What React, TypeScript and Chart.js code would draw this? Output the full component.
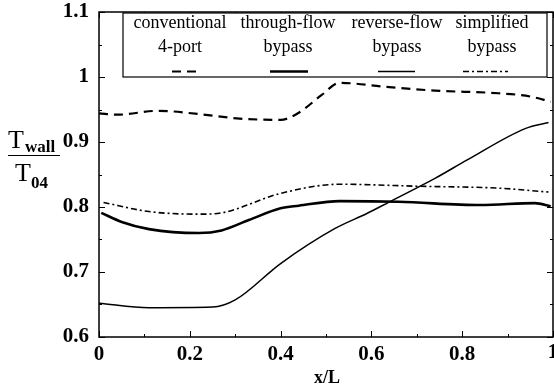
import { useEffect, useRef } from 'react';
import { Chart, registerables } from 'chart.js';
Chart.register(...registerables);

const SERIF = '"Liberation Serif", "Times New Roman", serif';

const xTickLabels = ['0', '0.2', '0.4', '0.6', '0.8', '1'];
const yTickLabels = ['0.6', '0.7', '0.8', '0.9', '1', '1.1'];

const legendLine1 = ['conventional', 'through-flow', 'reverse-flow', 'simplified'];
const legendLine2 = ['4-port', 'bypass', 'bypass', 'bypass'];

const convX = [0, 0.04, 0.13, 0.22, 0.31, 0.4, 0.44, 0.49, 0.53, 0.63, 0.74, 0.88, 0.95, 0.995];
const convY = [0.944, 0.942, 0.948, 0.943, 0.936, 0.934, 0.945, 0.972, 0.991, 0.985, 0.979, 0.975, 0.97, 0.962];

const thruX = [0.005, 0.05, 0.11, 0.22, 0.27, 0.33, 0.4, 0.44, 0.53, 0.66, 0.84, 0.96, 0.995];
const thruY = [0.791, 0.777, 0.766, 0.76, 0.764, 0.78, 0.798, 0.802, 0.809, 0.808, 0.803, 0.806, 0.801];

const revX = [0, 0.11, 0.25, 0.3, 0.4, 0.52, 0.59, 0.64, 0.74, 0.81, 0.94, 0.99];
const revY = [0.652, 0.645, 0.646, 0.657, 0.713, 0.767, 0.79, 0.808, 0.844, 0.872, 0.921, 0.93];

const simpX = [0.01, 0.11, 0.22, 0.27, 0.4, 0.53, 0.7, 0.88, 0.99];
const simpY = [0.807, 0.793, 0.789, 0.791, 0.821, 0.835, 0.832, 0.829, 0.823];

const pts = (xs: number[], ys: number[]) => xs.map((x, i) => ({ x, y: ys[i] }));

const seriesStyles = [
  { dash: [9, 6], width: 2.2 },
  { dash: [], width: 2.6 },
  { dash: [], width: 1.5 },
  { dash: [6, 3, 2, 3], width: 1.6 },
];

export default function App() {
  const ref = useRef<HTMLCanvasElement>(null);
  useEffect(() => {
    const overlay = {
      id: 'overlay',
      afterDraw(chart: any) {
        const ctx = chart.ctx as CanvasRenderingContext2D;
        const { left, right, top, bottom } = chart.chartArea;
        const xs = chart.scales.x;
        const ys = chart.scales.y;
        ctx.save();
        ctx.strokeStyle = '#000';
        ctx.fillStyle = '#000';
        ctx.setLineDash([]);
        // frame
        ctx.lineWidth = 1.5;
        ctx.strokeRect(left, top, right - left, bottom - top);
        // ticks
        ctx.lineWidth = 1;
        for (let i = 0; i <= 10; i++) {
          const v = 0.6 + i * 0.05;
          const py = Math.round(ys.getPixelForValue(v)) + 0.5;
          const len = i % 2 === 0 ? 6 : 3;
          ctx.beginPath();
          ctx.moveTo(left, py); ctx.lineTo(left + len, py);
          ctx.moveTo(right, py); ctx.lineTo(right - len, py);
          ctx.stroke();
        }
        for (let i = 0; i <= 10; i++) {
          const v = i * 0.1;
          const px = Math.round(xs.getPixelForValue(v)) + 0.5;
          const len = i % 2 === 0 ? 6 : 3;
          ctx.beginPath();
          ctx.moveTo(px, bottom); ctx.lineTo(px, bottom - len);
          ctx.moveTo(px, top); ctx.lineTo(px, top + len);
          ctx.stroke();
        }
        // legend box
        const lx = 123, ly = 13, lw = 424, lh = 64;
        ctx.fillStyle = '#fff';
        ctx.fillRect(lx, ly, lw, lh);
        ctx.fillStyle = '#000';
        ctx.lineWidth = 1.2;
        ctx.strokeRect(lx, ly, lw, lh);
        const cols = [180, 288, 397, 492];
        const samples = [[172, 198], [270, 308], [378, 415], [463, 508]];
        ctx.font = `18px ${SERIF}`;
        ctx.textAlign = 'center';
        ctx.textBaseline = 'alphabetic';
        cols.forEach((cx, i) => {
          ctx.fillText(legendLine1[i], cx, 28);
          ctx.fillText(legendLine2[i], cx, 52);
          const st = seriesStyles[i];
          ctx.setLineDash(st.dash);
          ctx.lineWidth = st.width;
          ctx.beginPath();
          ctx.moveTo(samples[i][0], 71.5);
          ctx.lineTo(samples[i][1], 71.5);
          ctx.stroke();
        });
        ctx.setLineDash([]);
        // y-axis label (fraction)
        ctx.textAlign = 'left';
        ctx.font = `26px ${SERIF}`;
        ctx.fillText('T', 8, 148);
        ctx.font = `bold 17px ${SERIF}`;
        ctx.fillText('wall', 25, 152);
        ctx.lineWidth = 1.2;
        ctx.beginPath();
        ctx.moveTo(8, 155.5); ctx.lineTo(60, 155.5);
        ctx.stroke();
        ctx.font = `26px ${SERIF}`;
        ctx.fillText('T', 15, 181);
        ctx.font = `bold 17px ${SERIF}`;
        ctx.fillText('04', 31, 188);
        // x tick label "1" at the right edge (partly clipped like the reference)
        ctx.textAlign = 'center';
        ctx.textBaseline = 'top';
        ctx.font = `bold 21px ${SERIF}`;
        ctx.fillText(xTickLabels[5], xs.getPixelForValue(1), bottom + 5);
        // x title
        ctx.textBaseline = 'alphabetic';
        ctx.font = `bold 18px ${SERIF}`;
        ctx.fillText('x/L', (left + right) / 2 + 1, 383);
        ctx.restore();
      },
    };

    const mk = (label: string, xs: number[], ys: number[], i: number) => ({
      label,
      data: pts(xs, ys),
      borderColor: '#000',
      backgroundColor: '#000',
      borderWidth: seriesStyles[i].width,
      borderDash: seriesStyles[i].dash,
      pointRadius: 0,
      fill: false,
      cubicInterpolationMode: 'monotone' as const,
    });

    const chart = new Chart(ref.current!, {
      type: 'line',
      data: {
        datasets: [
          mk('conventional 4-port', convX, convY, 0),
          mk('through-flow bypass', thruX, thruY, 1),
          mk('reverse-flow bypass', revX, revY, 2),
          mk('simplified bypass', simpX, simpY, 3),
        ],
      },
      options: {
        animation: false,
        responsive: true,
        maintainAspectRatio: false,
        layout: { padding: { top: 12, right: 1, left: 0, bottom: 0 } },
        plugins: { legend: { display: false }, tooltip: { enabled: false } },
        scales: {
          x: {
            type: 'linear',
            min: 0,
            max: 1,
            grid: { display: false, drawTicks: false },
            border: { display: false },
            ticks: {
              stepSize: 0.2,
              padding: 5,
              color: '#000',
              font: { family: SERIF, size: 21, weight: 'bold' },
              maxRotation: 0,
              autoSkip: false,
              callback: (v: any) => {
                const i = Math.round(Number(v) / 0.2);
                return i === 5 ? '' : xTickLabels[i] ?? '';
              },
            },
            afterFit: (s: any) => {
              s.height = 52;
              s.paddingLeft = 0;
              s.paddingRight = 0;
            },
          },
          y: {
            type: 'linear',
            min: 0.6,
            max: 1.1,
            grid: { display: false, drawTicks: false },
            border: { display: false },
            ticks: {
              stepSize: 0.1,
              padding: 10,
              color: '#000',
              font: { family: SERIF, size: 21, weight: 'bold' },
              autoSkip: false,
              callback: (v: any) => yTickLabels[Math.round((Number(v) - 0.6) / 0.1)] ?? '',
            },
            afterFit: (s: any) => {
              s.width = 99;
              s.paddingTop = 0;
              s.paddingBottom = 0;
            },
          },
        },
      },
      plugins: [overlay],
    });
    return () => chart.destroy();
  }, []);
  return (
    <div style={{ position: 'fixed', left: 0, top: 0, width: 554, height: 389, background: '#fff' }}>
      <canvas ref={ref} />
    </div>
  );
}
